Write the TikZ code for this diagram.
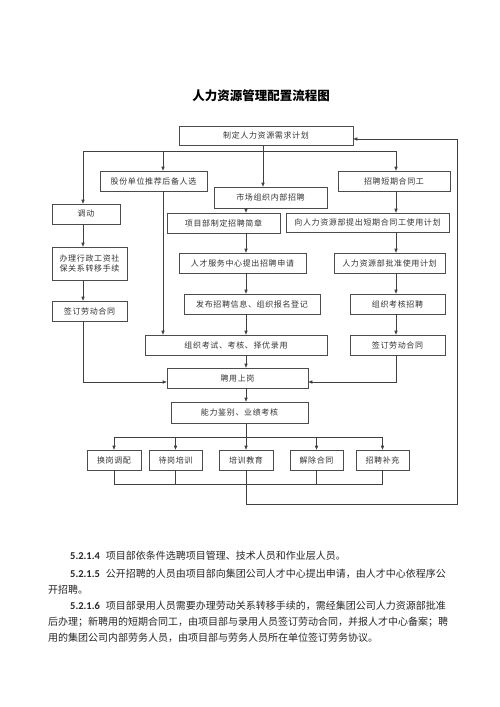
\documentclass[tikz,border=0pt]{standalone}
\usepackage{fontspec}
\newfontfamily\cjk{Noto Sans CJK SC}
\newfontfamily\cjkbox[LetterSpace=8]{Noto Sans CJK SC}
\setsansfont{Carlito}
\usetikzlibrary{arrows.meta}
\XeTeXlinebreaklocale "zh"
\XeTeXlinebreakskip=0pt plus 1pt
\newcommand{\secno}[1]{{\sffamily\bfseries\fontsize{10.5}{12}\selectfont #1}\hspace{6pt}}

\begin{document}
\begin{tikzpicture}[x=1pt, y=-1pt,
      box/.style={draw=black!70, line width=0.6pt, minimum height=20pt,
                  inner sep=1pt, font=\cjkbox\fontsize{8}{10}\selectfont,
                  text=black!80, align=center},
      arr/.style={-{Triangle[length=4pt, width=3.2pt]}, line width=0.6pt, draw=black!75},
      ln/.style={line width=0.6pt, draw=black!75},
      para/.style={anchor=base west, inner sep=0pt,
                   font=\cjk\fontsize{10}{12}\selectfont, text=black!85},
      jpara/.style={para, align=justify, text width=#1}
    ]
    \useasboundingbox (0,0) rectangle (500,707);

    %% ---- title ----
    \node[font=\cjk\bfseries\fontsize{12.5}{14}\selectfont] (title) at (261,96)
          {人力资源管理配置流程图};

    %% ---- connector columns / rows ----
    \coordinate (cL) at (83,0);
    \coordinate (cG) at (163,0);
    \coordinate (cT) at (263,0);
    \coordinate (cM) at (246,0);
    \coordinate (cR) at (396,0);
    \coordinate (cX) at (457,0);
    \coordinate (rTop)  at (0,151);
    \coordinate (rJoin) at (0,382);
    \coordinate (rOut)  at (0,437);
    \coordinate (rIn)   at (0,484);
    \coordinate (rBack) at (0,504);
    \coordinate (rPlan) at (0,139);

    %% ---- boxes ----
    \node[box, minimum width=174pt, minimum height=19pt] at (266,135.5) (plan) {制定人力资源需求计划};
    \node[box, minimum width=107pt] at (153.5,181) (gufen)    {股份单位推荐后备人选};
    \node[box, minimum width=112pt] at (394,181)   (duanqi)   {招聘短期合同工};
    \node[box, minimum width=113pt, minimum height=21pt] at (270.5,197.5) (shichang) {市场组织内部招聘};
    \node[box, minimum width=68pt]  at (86,214)    (diaodong) {调动};
    \node[box, minimum width=113pt] at (223.5,223) (jianzhang) {项目部制定招聘简章};
    \node[box, minimum width=163pt, minimum height=19pt] at (367.5,222.5) (jihua) {向人力资源部提出短期合同工使用计划};
    \node[box, minimum width=75pt, minimum height=33pt] at (89.5,263.5) (banli)
          {办理行政工资社\\保关系转移手续};
    \node[box, minimum width=127pt] at (242.5,263) (shenqing) {人才服务中心提出招聘申请};
    \node[box, minimum width=111pt] at (389.5,263) (pizhun)   {人力资源部批准使用计划};
    \node[box, minimum width=136pt] at (252,304)   (fabu)     {发布招聘信息、组织报名登记};
    \node[box, minimum width=95pt]  at (397.5,304) (kaohe)    {组织考核招聘};
    \node[box, minimum width=75pt]  at (89.5,311)  (qianL)    {签订劳动合同};
    \node[box, minimum width=182pt] at (236,345)   (kaoshi)   {组织考试、考核、择优录用};
    \node[box, minimum width=95pt]  at (397.5,345) (qianR)    {签订劳动合同};
    \node[box, minimum width=141pt] at (237.5,378) (pinyong)  {聘用上岗};
    \node[box, minimum width=137pt, minimum height=21pt] at (239.5,412.5) (nengli) {能力鉴别、业绩考核};
    \node[box, minimum width=54pt]  at (114,460)   (huangang) {换岗调配};
    \node[box, minimum width=53pt]  at (175.5,460) (daigang)  {待岗培训};
    \node[box, minimum width=54pt]  at (246,460)   (peixun)   {培训教育};
    \node[box, minimum width=53pt]  at (316.5,460) (jiechu)   {解除合同};
    \node[box, minimum width=53pt]  at (382.5,460) (buchong)  {招聘补充};

    %% ---- edges ----
    %% plan -> four branches
    \draw[arr] (plan.south -| cT) -- (shichang.north -| cT);
    \draw[ln]  (cL |- rTop) -- (cR |- rTop);
    \draw[arr] (cL |- rTop) -- (diaodong.north -| cL);
    \draw[arr] (cG |- rTop) -- (gufen.north -| cG);
    \draw[arr] (cR |- rTop) -- (duanqi.north -| cR);

    %% left column
    \draw[arr] (diaodong.south -| cL) -- (banli.north -| cL);
    \draw[arr] (banli.south -| cL) -- (qianL.north -| cL);
    \draw[arr] (qianL.south -| cL) -- (cL |- rJoin) -- (pinyong.west |- rJoin);

    %% recommended candidates
    \draw[arr] (gufen.south -| cG) -- (kaoshi.north -| cG);

    %% middle column
    \draw[arr] (shichang.south -| cM) -- (jianzhang.north -| cM);
    \draw[arr] (jianzhang.south -| cM) -- (shenqing.north -| cM);
    \draw[arr] (shenqing.south -| cM) -- (fabu.north -| cM);
    \draw[arr] (fabu.south -| cM) -- (kaoshi.north -| cM);
    \draw[arr] (kaoshi.south -| cM) -- (pinyong.north -| cM);
    \draw[arr] (pinyong.south -| cM) -- (nengli.north -| cM);

    %% right column
    \draw[arr] (duanqi.south -| cR) -- (jihua.north -| cR);
    \draw[arr] (jihua.south -| cR) -- (pizhun.north -| cR);
    \draw[arr] (pizhun.south -| cR) -- (kaohe.north -| cR);
    \draw[arr] (kaohe.south -| cR) -- (qianR.north -| cR);
    \draw[arr] (qianR.south -| cR) -- (cR |- rJoin) -- (pinyong.east |- rJoin);

    %% appraisal -> five outcomes
    \draw[ln] (nengli.south -| cM) -- (cM |- rOut);
    \draw[ln] (huangang.north |- rOut) -- (buchong.north |- rOut);
    \foreach \n in {huangang, daigang, peixun, jiechu, buchong}
      \draw[arr] (\n.north |- rOut) -- (\n.north);

    %% outcomes -> back to plan
    \foreach \n in {huangang, daigang, jiechu, buchong}
      \draw[ln] (\n.south) -- (\n.south |- rIn);
    \draw[ln] (huangang.south |- rIn) -- (buchong.south |- rIn);
    \draw[arr] (peixun.south) -- (peixun.south |- rBack) -- (cX |- rBack)
               -- (cX |- rPlan) -- (plan.east |- rPlan);

    %% ---- text below ----
    \node[para] at (70,559) (p1)
          {\secno{5.2.1.4}项目部依条件选聘项目管理、技术人员和作业层人员。};
    \node[jpara=382pt] at (70,577) (p2)
          {\parfillskip=0pt\relax\secno{5.2.1.5}公开招聘的人员由项目部向集团公司人才中心提出申请，由人才中心依程序公};
    \node[para] at (48,593) (p3) {开招聘。};
    \node[jpara=382pt] at (70,609) (p4)
          {\parfillskip=0pt\relax\secno{5.2.1.6}项目部录用人员需要办理劳动关系转移手续的，需经集团公司人力资源部批准};
    \node[jpara=404pt] at (48,625) (p5)
          {\parfillskip=0pt\relax 后办理；新聘用的短期合同工，由项目部与录用人员签订劳动合同，并报人才中心备案；聘};
    \node[para] at (48,641) (p6)
          {用的集团公司内部劳务人员，由项目部与劳务人员所在单位签订劳务协议。};
  \end{tikzpicture}
\end{document}
